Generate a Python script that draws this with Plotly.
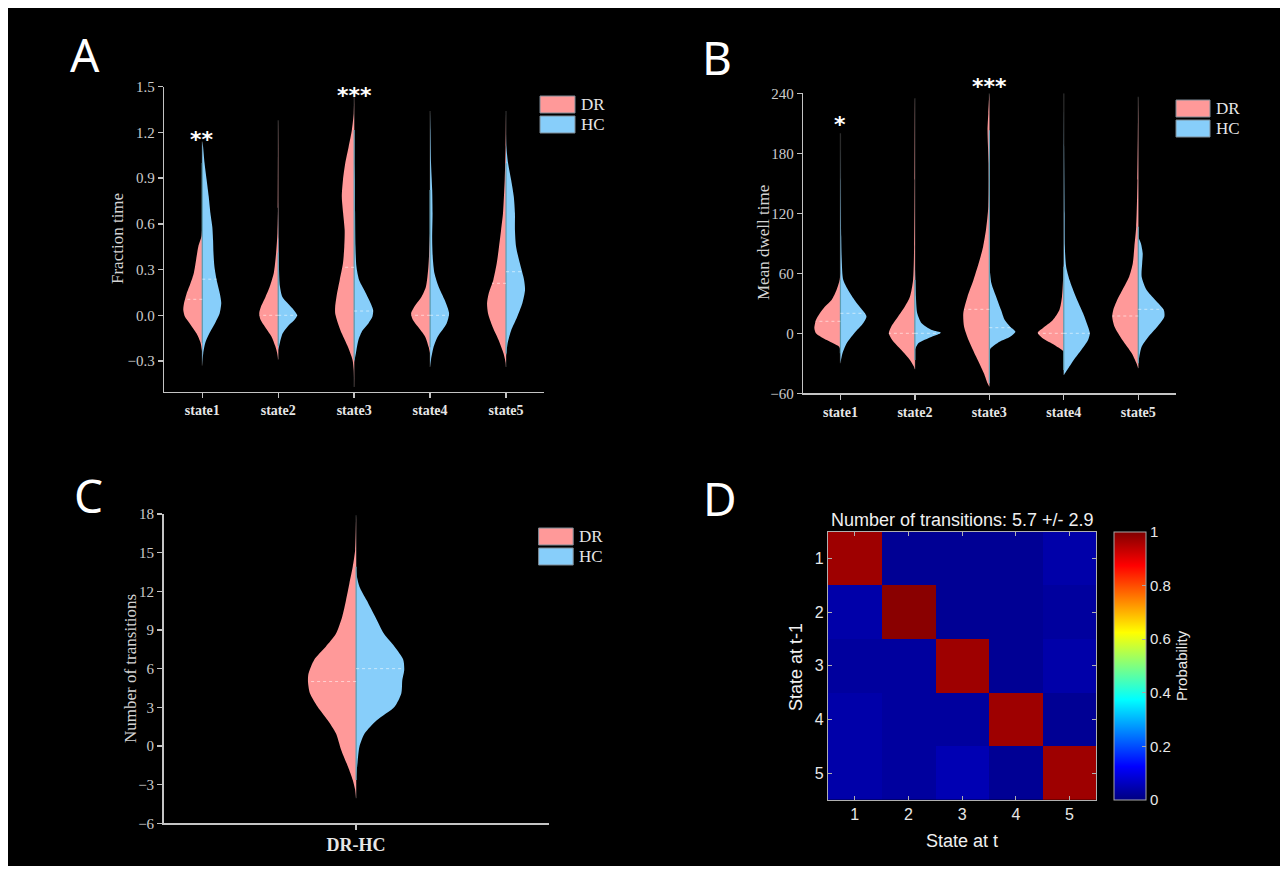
import numpy as np
import plotly.graph_objects as go

W, H = 1288, 874
FRAME = 8
SY = 858 / 874          # vertical scale observed in the photographed page
TOP = 8                 # vertical offset observed in the photographed page
PINK = "#FF9999"
BLUE = "#87CEFA"
MIDLINE = "#5e9db2"
AXIS = "#c4c4c4"
TICKTXT = "#cccccc"
SERIF = "Liberation Serif"
SANS = "Liberation Sans"

# ---------------- data ----------------
states = ["state1", "state2", "state3", "state4", "state5"]
groups = ["DR", "HC"]

# Panel A: Fraction time -- density profile of each half violin (levels, relative half-width)
frac_DR_levels = [
    [-0.26, -0.23, -0.18, -0.12, -0.05, -0.01, 0.035, 0.08, 0.14, 0.21, 0.28, 0.36, 0.45, 0.52, 0.60],
    [-0.29, -0.25, -0.20, -0.14, -0.085, -0.03, 0.013, 0.056, 0.12, 0.19, 0.28, 0.41, 0.54, 0.70, 1.28],
    [-0.47, -0.36, -0.29, -0.21, -0.12, -0.05, 0.013, 0.056, 0.144, 0.232, 0.341, 0.45, 0.56, 0.669, 0.778, 0.888, 0.997, 1.106, 1.216, 1.325, 1.445],
    [-0.25, -0.21, -0.14, -0.085, -0.03, 0.013, 0.068, 0.122, 0.188, 0.319, 0.494, 0.55],
    [-0.34, -0.31, -0.25, -0.16, -0.075, 0.013, 0.079, 0.144, 0.232, 0.341, 0.45, 0.56, 0.669, 0.888, 1.106, 1.34],
]
frac_DR_density = [
    [0, 0.02, 0.09, 0.30, 0.68, 0.91, 1.0, 0.96, 0.83, 0.62, 0.44, 0.33, 0.21, 0.04, 0],
    [0, 0.05, 0.16, 0.35, 0.65, 0.93, 1.0, 0.91, 0.67, 0.44, 0.23, 0.11, 0.04, 0.01, 0],
    [0, 0.02, 0.09, 0.32, 0.65, 0.86, 1.0, 1.0, 0.90, 0.76, 0.59, 0.52, 0.50, 0.58, 0.65, 0.59, 0.47, 0.29, 0.12, 0.02, 0],
    [0, 0.07, 0.26, 0.58, 0.91, 1.0, 0.77, 0.45, 0.22, 0.09, 0.02, 0],
    [0, 0.02, 0.13, 0.40, 0.71, 0.95, 1.0, 0.91, 0.67, 0.49, 0.37, 0.26, 0.16, 0.07, 0.02, 0],
]
frac_HC_levels = [
    [-0.33, -0.25, -0.18, -0.12, -0.05, 0.01, 0.08, 0.14, 0.23, 0.32, 0.41, 0.49, 0.58, 0.67, 0.78, 0.89, 1.0, 1.11, 1.14],
    [-0.23, -0.18, -0.12, -0.075, -0.03, 0.0, 0.035, 0.08, 0.12, 0.19, 0.32, 0.5, 0.8],
    [-0.31, -0.25, -0.16, -0.10, -0.053, -0.01, 0.035, 0.10, 0.166, 0.232, 0.32, 0.45, 0.67, 0.89, 1.0],
    [-0.34, -0.29, -0.21, -0.14, -0.053, 0.013, 0.10, 0.188, 0.276, 0.363, 0.494, 0.669, 0.822, 0.997, 1.216, 1.34],
    [-0.27, -0.18, -0.10, -0.01, 0.079, 0.166, 0.232, 0.341, 0.45, 0.56, 0.669, 0.778, 0.888, 0.997, 1.106, 1.2],
]
frac_HC_density = [
    [0, 0.05, 0.16, 0.37, 0.68, 0.91, 1.0, 0.93, 0.76, 0.64, 0.59, 0.57, 0.53, 0.43, 0.34, 0.23, 0.12, 0.04, 0],
    [0, 0.09, 0.23, 0.49, 0.86, 1.0, 0.82, 0.49, 0.22, 0.09, 0.04, 0.02, 0],
    [0, 0.09, 0.23, 0.44, 0.75, 0.96, 1.0, 0.79, 0.53, 0.26, 0.12, 0.07, 0.05, 0.04, 0],
    [0, 0.05, 0.18, 0.40, 0.87, 1.0, 0.77, 0.45, 0.23, 0.15, 0.11, 0.13, 0.11, 0.05, 0.02, 0],
    [0, 0.09, 0.27, 0.59, 0.86, 1.0, 0.95, 0.73, 0.53, 0.47, 0.47, 0.41, 0.27, 0.11, 0.02, 0],
]
frac_DR_median = [0.105, 0.0, 0.315, 0.0, 0.21]
frac_HC_median = [0.237, 0.0, 0.028, 0.0, 0.286]
frac_stars = ["**", "", "***", "", ""]
frac_star_y = [1.155, None, 1.44, None, None]

# Panel B: Mean dwell time
dwell_DR_levels = [
    [-16.7, -13.4, -10, -5, 0, 5, 13.3, 20, 26.6, 33.3, 43.3, 53.3, 60],
    [-36, -33.3, -26.7, -16.7, -6.7, 0, 6.6, 16.6, 26.6, 36.6, 53.3, 86.6, 153, 235],
    [-53.3, -50, -40, -23.3, -6.7, 6.6, 20, 36.6, 53.3, 70, 86.6, 103.3, 126.6, 170, 203, 220, 240],
    [-18.4, -16.7, -11.7, -5, 0.6, 5, 13.3, 23.3, 36.6, 70],
    [-35, -30, -20, -6.7, 6.6, 16.6, 23.3, 33.3, 43.3, 56.6, 70, 86.6, 106.6, 153, 236.6],
]
dwell_DR_density = [
    [0, 0.05, 0.28, 0.66, 0.94, 1.0, 0.94, 0.79, 0.60, 0.34, 0.15, 0.03, 0],
    [0, 0.04, 0.19, 0.52, 0.87, 1.0, 0.91, 0.65, 0.39, 0.19, 0.07, 0.03, 0.01, 0],
    [0, 0.07, 0.21, 0.51, 0.80, 0.97, 1.0, 0.84, 0.61, 0.41, 0.24, 0.13, 0.04, 0.03, 0.07, 0.04, 0],
    [0, 0.07, 0.36, 0.81, 1.0, 0.81, 0.42, 0.17, 0.07, 0],
    [0, 0.07, 0.25, 0.61, 0.91, 1.0, 0.96, 0.81, 0.61, 0.35, 0.21, 0.15, 0.08, 0.03, 0],
]
dwell_HC_levels = [
    [-30, -20, -10, 0, 10, 16.6, 20, 30, 40, 53.3, 73.3, 96.6, 153, 200],
    [-16.7, -10, -3.4, 0.6, 3.3, 10, 20, 36.6, 70],
    [-18.4, -15, -8.4, -3.4, 1.6, 6.6, 13.3, 23.3, 36.6, 50, 70],
    [-41.7, -36.7, -26.7, -16.7, -6.7, 0, 6.6, 20, 36.6, 53.3, 66.6, 86.6, 120, 186.6, 240],
    [-30, -23.4, -13.4, -3.4, 6.6, 16.6, 23.3, 33.3, 43.3, 56.6, 70, 80, 90, 96.6],
]
dwell_HC_density = [
    [0, 0.08, 0.24, 0.53, 0.87, 1.0, 0.94, 0.63, 0.37, 0.11, 0.05, 0.03, 0.01, 0],
    [0, 0.13, 0.65, 1.0, 0.65, 0.26, 0.09, 0.04, 0],
    [0, 0.05, 0.39, 0.80, 1.0, 0.80, 0.59, 0.45, 0.26, 0.08, 0],
    [0, 0.13, 0.38, 0.67, 0.93, 1.0, 0.93, 0.74, 0.46, 0.22, 0.09, 0.04, 0.03, 0.01, 0],
    [0, 0.04, 0.13, 0.39, 0.73, 1.0, 0.98, 0.65, 0.32, 0.13, 0.15, 0.17, 0.10, 0],
]
dwell_DR_median = [12, 0, 24, 0, 17.3]
dwell_HC_median = [20, 0, 5.6, 0, 24]
dwell_stars = ["*", "", "***", "", ""]
dwell_star_y = [209, None, 247, None, None]

# Panel C: Number of transitions
trans_label = "DR-HC"
trans_DR_levels = [-4.06, -3.4, -2.64, -1.6, -0.31, 0.98, 2.0, 3.05, 4.1, 5.0, 5.6, 6.7, 7.7, 8.7, 10.0, 11.3, 12.6, 13.9, 15.2, 17.9]
trans_DR_density = [0, 0.02, 0.07, 0.17, 0.31, 0.42, 0.59, 0.80, 0.96, 1.0, 0.99, 0.87, 0.63, 0.42, 0.29, 0.21, 0.14, 0.07, 0.02, 0]
trans_HC_levels = [-2.4, -1.3, -0.05, 0.98, 2.0, 3.05, 4.1, 5.1, 5.9, 6.7, 7.7, 8.7, 10.0, 11.3, 12.36, 13.1, 13.6]
trans_HC_density = [0, 0.03, 0.07, 0.18, 0.43, 0.80, 0.94, 0.96, 1.0, 0.98, 0.80, 0.58, 0.40, 0.22, 0.07, 0.02, 0]
trans_DR_median = 5.0
trans_HC_median = 6.0

# Panel D: transition probability matrix (rows: state at t-1, cols: state at t)
state_ids = [1, 2, 3, 4, 5]
trans_prob = [
    [0.97, 0.02, 0.02, 0.02, 0.04],
    [0.04, 0.99, 0.02, 0.02, 0.03],
    [0.03, 0.03, 0.97, 0.02, 0.04],
    [0.04, 0.03, 0.03, 0.97, 0.02],
    [0.04, 0.03, 0.05, 0.02, 0.97],
]
trans_mean, trans_sd = 5.7, 2.9

# ---------------- helpers (target picture px -> paper fraction) ----------------
def fx(p):
    return p / W

def fy(p):
    return 1 - ((p - TOP) / SY) / H

fig = go.Figure()


def half_violin(xc, levels, dens, scale, sign, color, xa, ya):
    lv = np.asarray(levels, float)
    d = np.asarray(dens, float)
    xs = np.concatenate([[xc], xc + sign * d * scale, [xc]])
    ys = np.concatenate([[lv[0]], lv, [lv[-1]]])
    fig.add_trace(go.Scatter(
        x=xs, y=ys, mode="lines", fill="toself", fillcolor=color,
        line=dict(width=0, color=color, shape="spline", smoothing=0.7),
        xaxis=xa, yaxis=ya, hoverinfo="skip", showlegend=False))


def split_violin(xc, dr_lv, dr_d, hc_lv, hc_d, dr_med, hc_med, scale, xa, ya):
    lo = min(dr_lv[0], hc_lv[0])
    hi = max(dr_lv[-1], hc_lv[-1])
    fig.add_trace(go.Scatter(x=[xc, xc], y=[lo, hi], mode="lines",
                             line=dict(color="#2a2a2a", width=1.3),
                             xaxis=xa, yaxis=ya, hoverinfo="skip", showlegend=False))
    half_violin(xc, dr_lv, dr_d, scale, -1, PINK, xa, ya)
    half_violin(xc, hc_lv, hc_d, scale, +1, BLUE, xa, ya)
    body = [v for v, w in zip(dr_lv, dr_d) if w > 0.06] + [v for v, w in zip(hc_lv, hc_d) if w > 0.06]
    fig.add_trace(go.Scatter(x=[xc, xc], y=[min(body), max(body)], mode="lines",
                             line=dict(color=MIDLINE, width=1.2),
                             xaxis=xa, yaxis=ya, hoverinfo="skip", showlegend=False))
    for med, lv, d, sign in [(dr_med, dr_lv, dr_d, -1), (hc_med, hc_lv, hc_d, 1)]:
        w = np.interp(med, lv, d) * scale
        fig.add_trace(go.Scatter(x=[xc, xc + sign * w], y=[med, med], mode="lines",
                                 line=dict(color="rgba(255,255,255,0.55)", width=1, dash="dot"),
                                 xaxis=xa, yaxis=ya, hoverinfo="skip", showlegend=False))


for i, s in enumerate(states):
    split_violin(i + 1, frac_DR_levels[i], frac_DR_density[i], frac_HC_levels[i], frac_HC_density[i],
                 frac_DR_median[i], frac_HC_median[i], 0.25, "x", "y")
for i, s in enumerate(states):
    split_violin(i + 1, dwell_DR_levels[i], dwell_DR_density[i], dwell_HC_levels[i], dwell_HC_density[i],
                 dwell_DR_median[i], dwell_HC_median[i], 0.35, "x2", "y2")
split_violin(0, trans_DR_levels, trans_DR_density, trans_HC_levels, trans_HC_density,
             trans_DR_median, trans_HC_median, 0.25, "x3", "y3")

jet = [[0.0, "rgb(0,0,128)"], [0.125, "rgb(0,0,255)"], [0.375, "rgb(0,255,255)"],
       [0.625, "rgb(255,255,0)"], [0.875, "rgb(255,0,0)"], [1.0, "rgb(128,0,0)"]]
D_dom_y = [fy(800), fy(531.7)]
fig.add_trace(go.Heatmap(
    z=trans_prob, x=state_ids, y=state_ids, colorscale=jet, zmin=0, zmax=1,
    xaxis="x4", yaxis="y4", hoverinfo="skip",
    colorbar=dict(
        x=fx(1113.6), xanchor="left", xpad=0, y=(D_dom_y[0] + D_dom_y[1]) / 2, yanchor="middle", ypad=0,
        thickness=32, thicknessmode="pixels", len=D_dom_y[1] - D_dom_y[0], lenmode="fraction",
        outlinecolor="#a8a8a8", outlinewidth=1,
        tickvals=[0, 0.2, 0.4, 0.6, 0.8, 1], ticktext=["0", "0.2", "0.4", "0.6", "0.8", "1"],
        ticks="inside", ticklen=4, tickcolor="#a8a8a8",
        tickfont=dict(family=SANS, size=15, color="#e8e8e8"),
        title=dict(text="Probability", side="right", font=dict(family=SANS, size=15, color="#e8e8e8")),
    )))

violin_axis = dict(showline=True, linecolor=AXIS, linewidth=1.5, ticks="outside", ticklen=5,
                   tickwidth=1.3, tickcolor=AXIS, showgrid=False, zeroline=False, fixedrange=True)
xtickfont = dict(family=SERIF, size=14, color="#e6e6e6", weight="bold")
ytickfont = dict(family=SERIF, size=15, color=TICKTXT)

A_dom_y = [fy(391.5), fy(86.7)]
B_dom_y = [fy(393.3), fy(93.3)]

fig.update_layout(
    width=W, height=H, margin=dict(l=0, r=0, t=0, b=0),
    paper_bgcolor="white", plot_bgcolor="rgba(0,0,0,0)", showlegend=False,
    xaxis=dict(domain=[fx(164.3), fx(544)], range=[0.5, 5.5], anchor="y",
               tickvals=[1, 2, 3, 4, 5], ticktext=states, tickfont=xtickfont, **violin_axis),
    yaxis=dict(domain=A_dom_y, range=[-0.5, 1.5], anchor="x",
               tick0=0, dtick=0.3, tickformat=".1f", tickfont=ytickfont, **violin_axis),
    xaxis2=dict(domain=[fx(803.2), fx(1175.5)], range=[0.5, 5.5], anchor="y2",
                tickvals=[1, 2, 3, 4, 5], ticktext=states, tickfont=xtickfont, **violin_axis),
    yaxis2=dict(domain=B_dom_y, range=[-60, 240], anchor="x2",
                tick0=0, dtick=60, tickfont=ytickfont, **violin_axis),
    xaxis3=dict(domain=[fx(163.6), fx(548.6)], range=[-1, 1], anchor="y3",
                tickvals=[0], ticktext=[trans_label],
                tickfont=dict(family=SERIF, size=18, color="#e6e6e6", weight="bold"), **violin_axis),
    yaxis3=dict(domain=[fy(823.3), fy(514)], range=[-6, 18], anchor="x3",
                tick0=0, dtick=3, tickfont=ytickfont, **violin_axis),
    xaxis4=dict(domain=[fx(827.9), fx(1096.4)], range=[0.5, 5.5], anchor="y4",
                tickvals=state_ids, showline=True, mirror="ticks", linecolor="#b0b0b0", linewidth=1,
                ticks="inside", ticklen=4, tickcolor="#b0b0b0", showgrid=False, zeroline=False,
                tickfont=dict(family=SANS, size=16, color="#e8e8e8")),
    yaxis4=dict(domain=D_dom_y, range=[5.5, 0.5], anchor="x4",
                tickvals=state_ids, showline=True, mirror="ticks", linecolor="#b0b0b0", linewidth=1,
                ticks="inside", ticklen=4, tickcolor="#b0b0b0", showgrid=False, zeroline=False,
                tickfont=dict(family=SANS, size=16, color="#e8e8e8")),
)

ann = []


def text(x, y, s, size, family, color="#ffffff", angle=0, xanchor="center", weight="normal"):
    ann.append(dict(x=fx(x), y=fy(y), xref="paper", yref="paper", text=s, showarrow=False,
                    xanchor=xanchor, yanchor="middle", textangle=angle,
                    font=dict(size=size, family=family, color=color, weight=weight)))


def to_paper(v, rng, dom):
    return dom[0] + (v - rng[0]) / (rng[1] - rng[0]) * (dom[1] - dom[0])


for letter, (px, py) in zip("ABCD", [(85, 54), (717, 57), (88, 495), (720, 498)]):
    text(px, py, letter, 46, "Noto Sans", "#ffffff")

starfont = dict(size=22, family="DejaVu Sans", color="white", weight="bold")
for i, s in enumerate(frac_stars):
    if s:
        ann.append(dict(x=i + 1, y=to_paper(frac_star_y[i], [-0.5, 1.5], A_dom_y), xref="x", yref="paper",
                        text=s, showarrow=False, yanchor="middle", font=starfont))
for i, s in enumerate(dwell_stars):
    if s:
        ann.append(dict(x=i + 1, y=to_paper(dwell_star_y[i], [-60, 240], B_dom_y), xref="x2", yref="paper",
                        text=s, showarrow=False, yanchor="middle", font=starfont))

text(117, 239, "Fraction time", 17, SERIF, "#d4d4d4", angle=-90)
text(763, 243, "Mean dwell time", 17, SERIF, "#d4d4d4", angle=-90)
text(130, 669, "Number of transitions", 17, SERIF, "#d4d4d4", angle=-90)
text(962, 520, f"Number of transitions: {trans_mean} +/- {trans_sd}", 18, SANS, "#f0f0f0")
text(796, 667, "State at t-1", 18, SANS, "#f0f0f0", angle=-90)
text(962, 841, "State at t", 18, SANS, "#f0f0f0")

# black canvas inside a thin white frame
shapes = [dict(type="rect", xref="paper", yref="paper", layer="below",
               x0=fx(FRAME), x1=fx(W - FRAME), y0=0, y1=1,
               fillcolor="black", line=dict(width=0))]
for (x0, x1, y0) in [(540, 575, 96), (1176, 1210, 100), (538.6, 573.2, 528)]:
    for k, (g, col) in enumerate(zip(groups, [PINK, BLUE])):
        ya = y0 + k * 20
        shapes.append(dict(type="rect", xref="paper", yref="paper", x0=fx(x0), x1=fx(x1),
                           y0=fy(ya + 17), y1=fy(ya), fillcolor=col,
                           line=dict(color="#7d8b96", width=1)))
        text(x1 + 4, ya + 8.5, g, 17, SERIF, "#e6e6e6", xanchor="left")

fig.update_layout(annotations=ann, shapes=shapes)

# make the page exactly the figure (no body margin / stray line boxes)
fit_page = (
    "var gd=document.getElementById('{plot_id}');"
    "var wrap=gd.parentElement;"
    "document.body.style.margin='0';"
    "document.body.style.overflow='hidden';"
    "document.body.appendChild(gd);"
    "wrap.style.display='none';"
)
fig.write_html("out.html", post_script=fit_page, config={"displayModeBar": False, "staticPlot": True})
